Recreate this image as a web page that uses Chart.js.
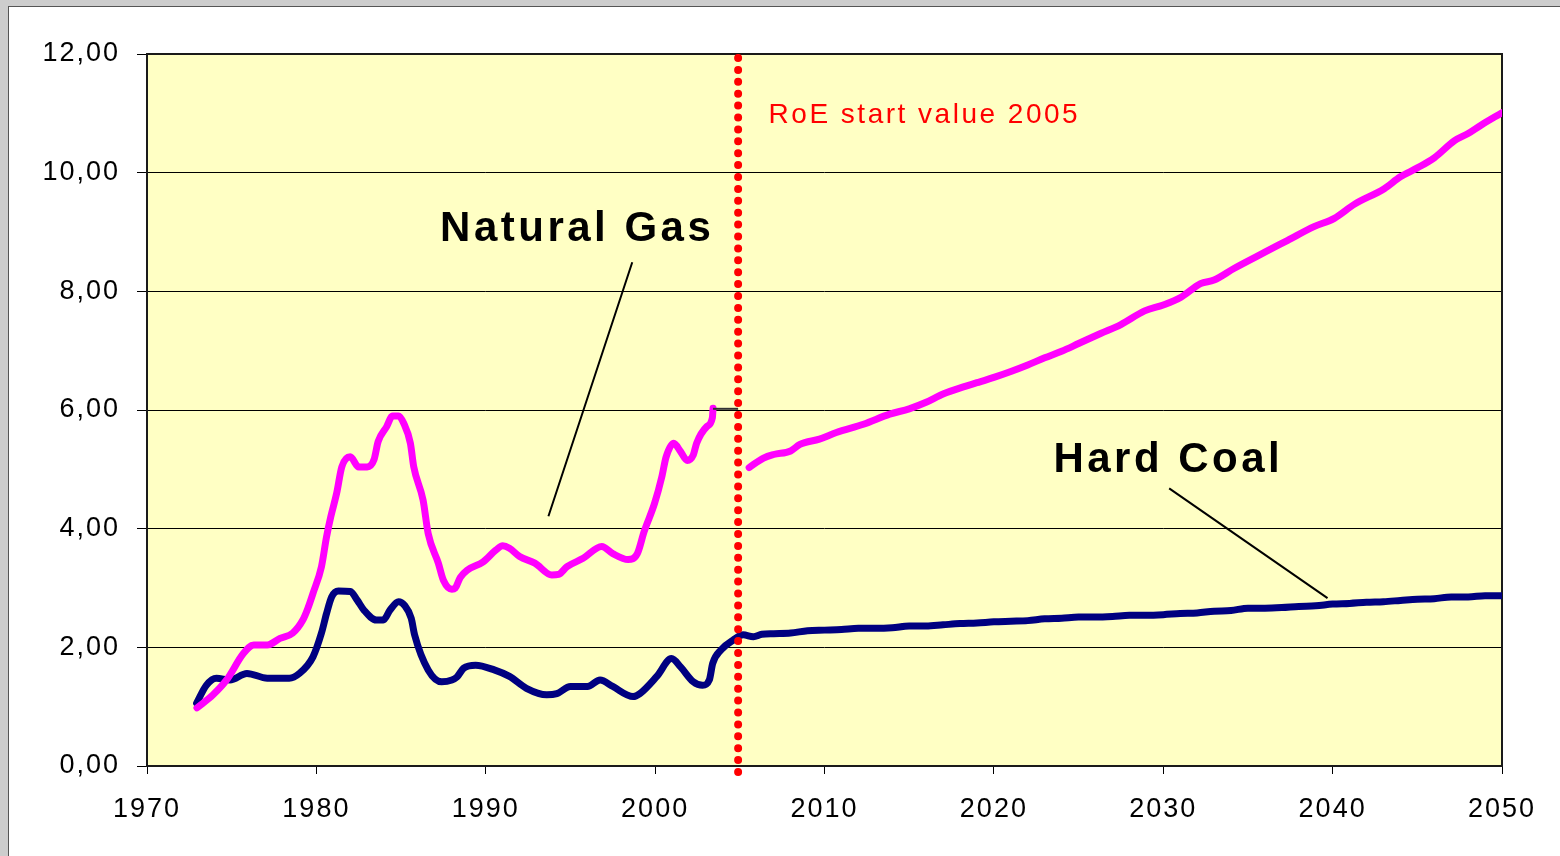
<!DOCTYPE html>
<html>
<head>
<meta charset="utf-8">
<script src="https://cdn.jsdelivr.net/npm/chart.js@4.4.0/dist/chart.umd.min.js"></script>
<style>
    html, body { margin: 0; padding: 0; }
    body { width: 1560px; height: 856px; background: #cdcdcd; position: relative; overflow: hidden; }
    #panel { position: absolute; left: 8px; top: 6px; right: 0; bottom: 0; background: #fff; border-left: 1px solid #555; border-top: 1px solid #555; }
    #chart { position: absolute; left: 0; top: 0; }
</style>
</head>
<body>
<div id="panel"></div>
<canvas id="chart" width="1560" height="856"></canvas>
<script>
// ---------- Data ----------
const gasHistYears = [1972.95, 1973.9, 1974.7, 1975.7, 1976.3, 1977.1, 1977.85, 1978.6, 1979.2, 1979.5,
    1979.8, 1980.3, 1980.6, 1980.85, 1981.2, 1981.5, 1982.0, 1982.5, 1983.0, 1983.4,
    1983.65, 1984.15, 1984.5, 1984.85, 1985.15, 1985.55, 1985.75, 1986.3, 1986.6, 1987.2,
    1987.5, 1988.0, 1988.2, 1988.5, 1988.9, 1989.85, 1990.6, 1991.0, 1991.4, 1992.0,
    1992.9, 1993.9, 1994.3, 1994.8, 1995.75, 1996.85, 1997.5, 1998.4, 1998.95, 1999.35,
    1999.97, 2000.4, 2000.65, 2001.1, 2001.5, 2001.9, 2002.25, 2002.45, 2003.05, 2003.38, 2003.42];
const gasHistValues = [0.98, 1.20, 1.45, 1.90, 2.04, 2.04, 2.15, 2.24, 2.46, 2.66,
    2.91, 3.36, 3.86, 4.20, 4.60, 5.04, 5.21, 5.04, 5.04, 5.16,
    5.47, 5.72, 5.90, 5.90, 5.78, 5.44, 5.04, 4.48, 3.92, 3.42,
    3.13, 2.98, 3.00, 3.18, 3.30, 3.44, 3.64, 3.71, 3.67, 3.53,
    3.42, 3.22, 3.23, 3.36, 3.50, 3.70, 3.58, 3.48, 3.58, 3.95,
    4.43, 4.88, 5.21, 5.44, 5.30, 5.15, 5.24, 5.44, 5.72, 5.87, 6.03];

const gasFutureYears = [2005.55, 2006.4, 2007, 2008, 2008.55, 2009.7, 2010.7, 2012.3, 2013.85, 2015,
    2016, 2017, 2018.2, 2019, 2020, 2021, 2022, 2023, 2024, 2025,
    2026.3, 2027.5, 2028.9, 2030, 2031.05, 2032.2, 2033, 2034.2, 2036, 2037.35,
    2038.9, 2040.1, 2041.3, 2043.05, 2044, 2045, 2046, 2047.2, 2048, 2048.76, 2050];
const gasFutureValues = [5.03, 5.19, 5.25, 5.31, 5.42, 5.51, 5.62, 5.76, 5.93, 6.02,
    6.13, 6.27, 6.39, 6.46, 6.55, 6.65, 6.76, 6.88, 6.99, 7.12,
    7.29, 7.44, 7.67, 7.77, 7.90, 8.13, 8.19, 8.39, 8.66, 8.86,
    9.09, 9.23, 9.47, 9.73, 9.93, 10.08, 10.25, 10.54, 10.66, 10.80, 11.01];

const coalYears = [1972.93, 1973.5, 1974.1, 1974.9, 1975.9, 1977.1, 1978.4, 1979.0, 1979.8, 1980.3,
    1980.6, 1980.9, 1981.3, 1982.0, 1982.4, 1982.8, 1983.55, 1983.95, 1984.35, 1984.85,
    1985.2, 1985.6, 1985.8, 1986.6, 1987.4, 1988.0, 1988.3, 1988.7, 1989.4, 1990.5,
    1991.4, 1992.4, 1993.6, 1994.2, 1995.0, 1996.0, 1996.75, 1997.5, 1998.7, 1999.1,
    2000.1, 2000.97, 2001.5, 2002.25, 2002.8, 2003.2, 2003.4, 2003.9, 2004.6, 2005.2,
    2005.8, 2006.3, 2007, 2008, 2009, 2010, 2011, 2012, 2013, 2014,
    2015, 2016, 2017, 2018, 2019, 2020, 2021, 2022, 2023, 2024,
    2025, 2026, 2027, 2028, 2029, 2030, 2031, 2032, 2033, 2034,
    2035, 2036, 2037, 2038, 2039, 2040, 2041, 2042, 2043, 2044,
    2045, 2046, 2047, 2048, 2049, 2050];
const coalValues = [1.06, 1.36, 1.48, 1.45, 1.56, 1.48, 1.48, 1.56, 1.84, 2.24,
    2.57, 2.85, 2.95, 2.94, 2.80, 2.63, 2.46, 2.46, 2.63, 2.77,
    2.71, 2.49, 2.21, 1.62, 1.42, 1.45, 1.50, 1.65, 1.70, 1.62,
    1.51, 1.31, 1.20, 1.22, 1.34, 1.34, 1.45, 1.34, 1.17, 1.22,
    1.51, 1.81, 1.67, 1.42, 1.36, 1.45, 1.73, 1.96, 2.12, 2.21,
    2.18, 2.22, 2.23, 2.24, 2.28, 2.29, 2.30, 2.32, 2.32, 2.33,
    2.36, 2.36, 2.38, 2.40, 2.41, 2.43, 2.44, 2.45, 2.48, 2.49,
    2.51, 2.51, 2.52, 2.54, 2.54, 2.55, 2.57, 2.58, 2.61, 2.62,
    2.66, 2.66, 2.67, 2.69, 2.70, 2.73, 2.74, 2.76, 2.77, 2.79,
    2.81, 2.82, 2.85, 2.85, 2.87, 2.87];

const startYear = 2004.9;   // RoE start marker

const toPoints = (xs, ys) => xs.map((x, i) => ({ x: x, y: ys[i] }));
const FONT = '"Liberation Sans", Arial, sans-serif';

// ---------- Plot area + annotations ----------
const decor = {
    id: 'decor',
    beforeDraw(chart) {
        const { ctx, chartArea: a } = chart;
        ctx.letterSpacing = '2px';
        ctx.save();
        ctx.fillStyle = '#FFFFC4';
        ctx.fillRect(a.left, a.top, a.right - a.left, a.bottom - a.top);
        ctx.restore();
    },
    beforeDatasetsDraw(chart) {
        const { ctx, chartArea: a } = chart;
        ctx.save();
        ctx.strokeStyle = '#1a1a1a';
        ctx.lineWidth = 2;
        ctx.strokeRect(a.left, a.top, a.right - a.left, a.bottom - a.top);
        ctx.restore();
    },
    afterDatasetsDraw(chart) {
        const { ctx, chartArea: a } = chart;
        const x = chart.scales.x, y = chart.scales.y;
        const px = v => x.getPixelForValue(v);
        const py = v => y.getPixelForValue(v);

        ctx.save();
        // leader lines
        ctx.strokeStyle = '#000';
        ctx.lineWidth = 2;
        ctx.beginPath();
        ctx.moveTo(px(1998.65), py(8.49));
        ctx.lineTo(px(1993.7), py(4.21));
        ctx.moveTo(px(2030.35), py(4.68));
        ctx.lineTo(px(2039.7), py(2.83));
        ctx.stroke();
        ctx.strokeStyle = '#333';
        ctx.beginPath();
        ctx.moveTo(px(2003.42), py(6.02));
        ctx.lineTo(px(startYear), py(6.02));
        ctx.stroke();

        // red dotted start line
        ctx.strokeStyle = '#FF0000';
        ctx.lineWidth = 8;
        ctx.lineCap = 'round';
        ctx.setLineDash([0, 11.9]);
        ctx.beginPath();
        ctx.moveTo(px(startYear), a.top + 4);
        ctx.lineTo(px(startYear), a.bottom + 6);
        ctx.stroke();
        ctx.setLineDash([]);

        // labels
        ctx.textBaseline = 'alphabetic';
        ctx.fillStyle = '#000';
        ctx.font = 'bold 42px ' + FONT;
        ctx.letterSpacing = '3.5px';
        ctx.textAlign = 'center';
        ctx.fillText('Natural Gas', px(1995.4), py(8.85));
        ctx.fillText('Hard Coal', px(2030.3), py(4.96));

        ctx.fillStyle = '#FF0000';
        ctx.font = '28px ' + FONT;
        ctx.letterSpacing = '2.5px';
        ctx.textAlign = 'left';
        ctx.fillText('RoE start value 2005', px(2006.7), py(10.84));
        ctx.restore();
    }
};

const lineStyle = (color) => ({
    borderColor: color,
    backgroundColor: color,
    borderWidth: 7,
    pointRadius: 0,
    fill: false,
    cubicInterpolationMode: 'monotone',
    borderCapStyle: 'round',
    borderJoinStyle: 'round'
});

new Chart(document.getElementById('chart'), {
    type: 'line',
    data: {
        datasets: [
            Object.assign({ label: 'Natural Gas', data: toPoints(gasHistYears, gasHistValues) }, lineStyle('#FF00FF')),
            Object.assign({ label: 'Natural Gas RoE', data: toPoints(gasFutureYears, gasFutureValues) }, lineStyle('#FF00FF')),
            Object.assign({ label: 'Hard Coal', data: toPoints(coalYears, coalValues) }, lineStyle('#000080'))
        ]
    },
    options: {
        responsive: false,
        devicePixelRatio: 1,
        animation: false,
        layout: { padding: { left: 0, top: 54, right: 58, bottom: 0 } },
        plugins: {
            legend: { display: false },
            tooltip: { enabled: false }
        },
        scales: {
            x: {
                type: 'linear',
                min: 1970,
                max: 2050,
                afterFit: s => { s.height = 90; },
                border: { display: false },
                grid: { drawOnChartArea: false, drawTicks: true, tickLength: 8, tickColor: '#000', lineWidth: 1 },
                ticks: {
                    stepSize: 10,
                    padding: 19,
                    color: '#000',
                    font: { family: FONT, size: 27 },
                    maxRotation: 0,
                    callback: v => String(v)
                }
            },
            y: {
                min: 0,
                max: 12,
                afterFit: s => { s.width = 147; },
                border: { display: false },
                grid: { color: '#000', lineWidth: 1, drawTicks: true, tickLength: 10, tickColor: '#000' },
                ticks: {
                    stepSize: 2,
                    padding: 17,
                    color: '#000',
                    font: { family: FONT, size: 27 },
                    callback: v => v.toFixed(2).replace('.', ',')
                }
            }
        }
    },
    plugins: [decor]
});
</script>
</body>
</html>
